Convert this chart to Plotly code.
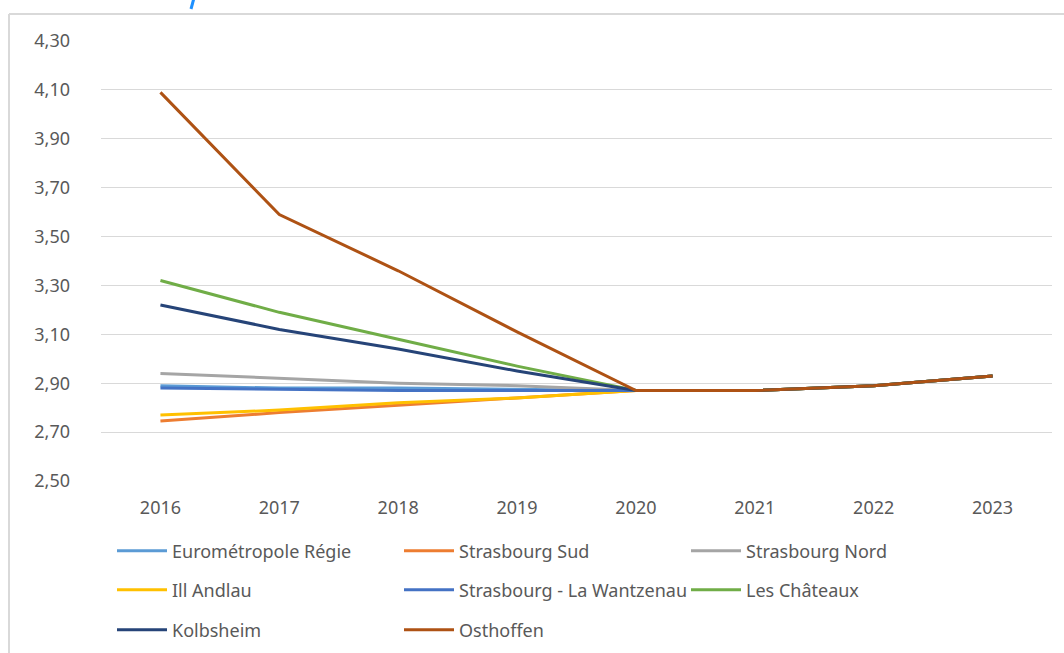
import plotly.graph_objects as go

# Data
years = ["2016", "2017", "2018", "2019", "2020", "2021", "2022", "2023"]
tail = [2.87, 2.89, 2.93]  # 2021-2023, shared by every series

eurometropole = [2.89, 2.88, 2.88, 2.875, 2.87] + tail
strasbourg_sud = [2.745, 2.78, 2.81, 2.84, 2.87] + tail
strasbourg_nord = [2.94, 2.92, 2.90, 2.89, 2.87] + tail
ill_andlau = [2.77, 2.79, 2.82, 2.84, 2.87] + tail
wantzenau = [2.88, 2.875, 2.87, 2.87, 2.87] + tail
chateaux = [3.32, 3.19, 3.08, 2.97, 2.87] + tail
kolbsheim = [3.22, 3.12, 3.04, 2.95, 2.87] + tail
osthoffen = [4.09, 3.59, 3.36, 3.11, 2.87] + tail

y_ticks = [2.5, 2.7, 2.9, 3.1, 3.3, 3.5, 3.7, 3.9, 4.1, 4.3]

series = [
    ("Eurométropole Régie", eurometropole, "#5B9BD5", "legend"),
    ("Strasbourg Sud", strasbourg_sud, "#ED7D31", "legend"),
    ("Strasbourg Nord", strasbourg_nord, "#A5A5A5", "legend"),
    ("Ill Andlau", ill_andlau, "#FFC000", "legend2"),
    ("Strasbourg - La Wantzenau", wantzenau, "#4472C4", "legend2"),
    ("Les Châteaux", chateaux, "#70AD47", "legend2"),
    ("Kolbsheim", kolbsheim, "#264478", "legend3"),
    ("Osthoffen", osthoffen, "#AE5214", "legend3"),
]

FONT = "Noto Sans"
TXT = "#595959"
GRID = "#D9D9D9"

# plot area in pixels
W, H = 1064, 653
L, R, T, B = 101, 12, 41, 172
pw, ph = W - L - R, H - T - B


def px_x(x):
    return (x - L) / pw


def px_y(y):
    return (H - B - y) / ph


fig = go.Figure()
for name, vals, color, leg in series:
    fig.add_trace(go.Scatter(
        x=years, y=vals, name=name, mode="lines",
        line=dict(color=color, width=3),
        legend=leg,
    ))

legend_base = dict(
    orientation="h",
    xanchor="left", yanchor="middle",
    x=px_x(112),
    entrywidth=222,
    itemwidth=50,
    font=dict(family=FONT, size=18, color=TXT),
    bgcolor="rgba(0,0,0,0)",
    itemclick=False,
)

fig.update_layout(
    width=W, height=H,
    margin=dict(l=L, r=R, t=T, b=B, autoexpand=False),
    plot_bgcolor="white", paper_bgcolor="white",
    separators=", ",
    font=dict(family=FONT, color=TXT),
    showlegend=True,
    legend=dict(legend_base, y=px_y(551)),
    legend2=dict(legend_base, y=px_y(590)),
    legend3=dict(legend_base, y=px_y(630)),
    xaxis=dict(
        type="category", range=[-0.5, 7.5],
        showgrid=False, zeroline=False, showline=False, ticks="",
        tickfont=dict(family=FONT, size=18, color=TXT),
        ticklabelstandoff=14,
    ),
    yaxis=dict(
        range=[2.5, 4.3], tickvals=y_ticks, tickformat=".2f",
        showgrid=True, gridcolor=GRID, gridwidth=1,
        zeroline=False, showline=False, ticks="",
        tickfont=dict(family=FONT, size=18, color=TXT),
        ticklabelstandoff=30,
    ),
    shapes=[
        # chart frame
        dict(type="line", xref="paper", yref="paper",
             x0=px_x(9), x1=px_x(1070), y0=px_y(14), y1=px_y(14),
             line=dict(color=GRID, width=2)),
        dict(type="line", xref="paper", yref="paper",
             x0=px_x(9), x1=px_x(9), y0=px_y(14), y1=px_y(660),
             line=dict(color=GRID, width=2)),
        # fragment of the clipped heading above the chart
        dict(type="line", xref="paper", yref="paper",
             x0=px_x(194), x1=px_x(191), y0=px_y(-2), y1=px_y(9),
             line=dict(color="#1E90FF", width=3)),
    ],
)

fig.write_html("out.html", config={"displayModeBar": False},
               post_script="document.body.style.margin='0';")
